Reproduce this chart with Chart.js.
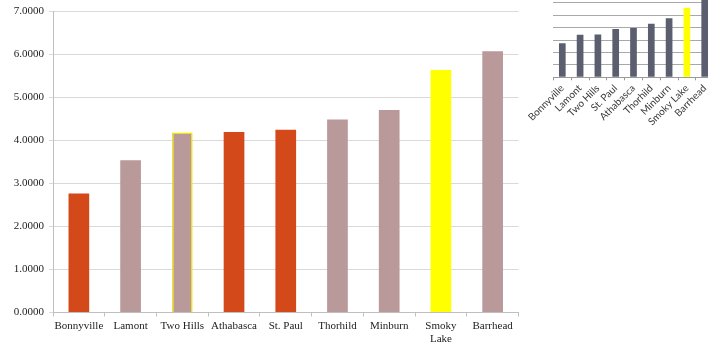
<!DOCTYPE html>
<html>
<head>
<meta charset="utf-8">
<script src="https://cdn.jsdelivr.net/npm/chart.js@4.4.1/dist/chart.umd.min.js"></script>
<style>
  html, body { margin: 0; padding: 0; background: #fff; overflow: hidden; }
  #wrap { position: relative; width: 708px; height: 345px; overflow: hidden; }
  #main { position: absolute; left: 0; top: 0; }
  #mini { position: absolute; left: 510px; top: -20px; }
</style>
</head>
<body>
<div id="wrap">
  <canvas id="main" width="530" height="345"></canvas>
  <canvas id="mini" width="230" height="160"></canvas>
</div>
<script>
// ===== DADOS =====
const municipios = ["Bonnyville", "Lamont", "Two Hills", "Athabasca", "St. Paul",
                    "Thorhild", "Minburn", ["Smoky", "Lake"], "Barrhead"];
const valores = [2.77, 3.54, 4.19, 4.20, 4.25, 4.49, 4.71, 5.64, 6.08];
const grupo = ["laranja", "rosa", "destaque", "laranja", "laranja",
               "rosa", "rosa", "amarelo", "rosa"];

const municipiosMini = ["Bonnyville", "Lamont", "Two Hills", "St. Paul", "Athabasca",
                        "Thorhild", "Minburn", "Smoky Lake", "Barrhead"];
const valoresMini = [2.74, 3.44, 3.46, 3.89, 3.97, 4.32, 4.77, 5.60, 6.25];

const eixoY = { min: 0, max: 7, passo: 1 };

// ===== CORES =====
const cores = {
    laranja: "#D4491A",
    rosa: "#B99999",
    destaque: "#B99999",
    amarelo: "#FFFF00"
};

const fonteSerif = { family: "'Liberation Serif', serif", size: 11 };

// ===== GRÁFICO PRINCIPAL =====
new Chart(document.getElementById("main"), {
    type: "bar",
    data: {
        labels: municipios,
        datasets: [{
            data: valores,
            backgroundColor: grupo.map(g => cores[g]),
            borderColor: grupo.map(g => g === "destaque" ? "#F2E400" : "rgba(0,0,0,0)"),
            borderWidth: grupo.map(g => g === "destaque" ? 1.5 : 0),
            barPercentage: 0.8,
            categoryPercentage: 0.5
        }]
    },
    options: {
        responsive: false,
        animation: false,
        layout: { padding: { top: 11.5, right: 11.5, bottom: 0, left: 0 } },
        plugins: { legend: { display: false }, tooltip: { enabled: false } },
        scales: {
            x: {
                grid: { drawOnChartArea: false, drawTicks: true, tickLength: 4, color: "#bfbfbf" },
                border: { color: "#bfbfbf" },
                ticks: { color: "#222", font: fonteSerif, padding: 3, maxRotation: 0, autoSkip: false },
                afterFit(scale) { scale.height = 32.5; }
            },
            y: {
                min: eixoY.min,
                max: eixoY.max,
                grid: { color: "#d9d9d9", tickLength: 4 },
                border: { color: "#bfbfbf" },
                ticks: {
                    stepSize: eixoY.passo,
                    color: "#222",
                    font: fonteSerif,
                    padding: 5,
                    callback: v => v.toFixed(4)
                },
                afterFit(scale) { scale.width = 53; }
            }
        }
    }
});

// ===== GRÁFICO PEQUENO =====
new Chart(document.getElementById("mini"), {
    type: "bar",
    data: {
        labels: municipiosMini,
        datasets: [{
            data: valoresMini,
            backgroundColor: municipiosMini.map(m => m === "Smoky Lake" ? "#FFFF00" : "#5B5E6F"),
            borderWidth: 0,
            barPercentage: 0.75,
            categoryPercentage: 0.5
        }]
    },
    options: {
        responsive: false,
        animation: false,
        layout: { padding: { top: 10.5, right: 26.4, bottom: 0, left: 0 } },
        plugins: { legend: { display: false }, tooltip: { enabled: false } },
        scales: {
            x: {
                grid: { drawOnChartArea: false, drawTicks: true, tickLength: 3, color: "#9a9a9a" },
                border: { color: "#9a9a9a" },
                ticks: {
                    color: "#3a3a3a",
                    font: { family: "Lato, sans-serif", size: 10 },
                    minRotation: 45,
                    maxRotation: 45,
                    autoSkip: false,
                    padding: 2
                },
                afterFit(scale) {
                    scale.height = 62.7;
                    scale.paddingLeft = 0;
                    scale.paddingRight = 0;
                }
            },
            y: {
                min: eixoY.min,
                max: eixoY.max,
                grid: { color: "#a8a8a8", drawTicks: false },
                border: { display: false },
                ticks: { display: false, stepSize: eixoY.passo },
                afterFit(scale) { scale.width = 43.4; }
            }
        }
    }
});
</script>
</body>
</html>
